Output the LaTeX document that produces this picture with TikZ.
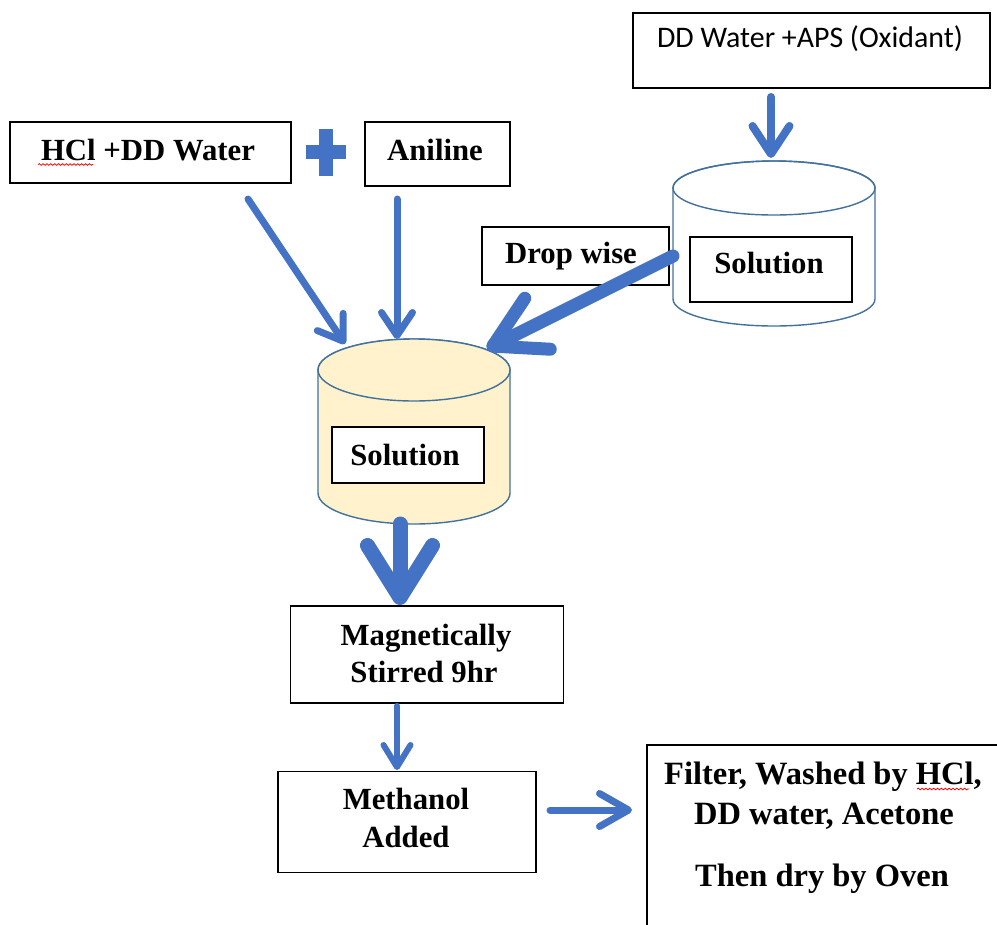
\documentclass[tikz,border=0pt]{standalone}
\usepackage{fontspec}
\setmainfont{Liberation Serif}
\newfontfamily\calfont{Carlito}
\usetikzlibrary{arrows.meta,decorations.pathmorphing}
\definecolor{ablue}{HTML}{4472C4}
\definecolor{cylline}{HTML}{41719C}
\definecolor{cylfill}{HTML}{FFF2CC}
\begin{document}
\begin{tikzpicture}[x=0.02cm,y=-0.02cm,
  box/.style={draw=black, line width=1pt, fill=white, inner sep=0pt},
  txt/.style={font=\fontsize{17.5}{21}\selectfont\bfseries, inner sep=0pt, anchor=base},
  bigtxt/.style={font=\fontsize{18.5}{22}\selectfont\bfseries, inner sep=0pt, anchor=base},
  flow/.style={draw=ablue, line cap=round, line join=round},
  cyl/.style={draw=cylline, line width=0.8pt},
  squig/.style={draw=red, line width=0.45pt, decorate, decoration={snake, amplitude=0.45pt, segment length=2.2pt}}
]
\useasboundingbox (0,0) rectangle (997,924);
\clip (0,0) rectangle (997,924);

% ---------- boxes ----------
\node[box, minimum width=7.14cm, minimum height=1.5cm] (dd) at (811.5,50.5) {};
\node[txt, font=\calfont\fontsize{17}{20}\selectfont] (ddt) at (810,47) {DD Water +APS (Oxidant)};

\node[box, minimum width=5.62cm, minimum height=1.22cm] (hcl) at (150.5,152.5) {};
\node[txt] (hclt) at (148,160) {HCl +DD Water};
\draw[squig] (38,164.5) -- (93,164.5);

\node[box, minimum width=2.9cm, minimum height=1.28cm] (ani) at (437.5,154) {};
\node[txt] (anit) at (435,160) {Aniline};

% plus sign
\fill[ablue] (319,129) rectangle (333,176);
\fill[ablue] (306,145) rectangle (346,159);
\coordinate (plus) at (326,152);

% ---------- right cylinder ----------
\path[cyl, fill=white] (673,188) -- (673,299)
   arc[start angle=180, end angle=0, x radius=101, y radius=27]
   -- (875,188)
   arc[start angle=0, end angle=-180, x radius=101, y radius=27] -- cycle;
\draw[cyl] (774,188) ellipse[x radius=101, y radius=27];
\coordinate (rcyltop) at (771,158);
\coordinate (rcylleft) at (673,256);

\node[box, minimum width=3.24cm, minimum height=1.3cm] (rsol) at (771,269.5) {};
\node[txt] (rsolt) at (769,273) {Solution};

\node[box, minimum width=3.74cm, minimum height=1.16cm] (drop) at (575.5,256) {};
\node[txt] (dropt) at (571,263) {Drop wise};

% ---------- left cylinder ----------
\path[cyl, fill=cylfill] (318,370) -- (318,493)
   arc[start angle=180, end angle=0, x radius=96, y radius=31]
   -- (510,370)
   arc[start angle=0, end angle=-180, x radius=96, y radius=31] -- cycle;
\draw[cyl, fill=cylfill] (414,370) ellipse[x radius=96, y radius=31];
\coordinate (lcylA) at (345,344);
\coordinate (lcylB) at (397,339);
\coordinate (lcylC) at (487,349);
\coordinate (lcylbot) at (400,524);

\node[box, minimum width=3.04cm, minimum height=1.12cm] (lsol) at (408,455) {};
\node[txt] (lsolt) at (405,465) {Solution};

% ---------- lower boxes ----------
\node[box, minimum width=5.46cm, minimum height=1.94cm] (mag) at (427,654.5) {};
\node[txt] (magt1) at (426,645) {Magnetically};
\node[txt] (magt2) at (424,682) {Stirred 9hr};

\node[box, minimum width=5.16cm, minimum height=2.02cm] (meth) at (407,822) {};
\node[txt] (metht1) at (406,809) {Methanol};
\node[txt] (metht2) at (406,847) {Added};

\draw[black, line width=1pt] (1010,745) -- (647,745) -- (647,940);
\coordinate (fin) at (647,810);
\node[bigtxt] (fint1) at (823,784) {Filter, Washed by HCl,};
\node[bigtxt] (fint2) at (824,824) {DD water, Acetone};
\node[bigtxt] (fint3) at (822,886) {Then dry by Oven};
\draw[squig] (917,789) -- (969,789);

% ---------- connectors ----------
\coordinate (ddout) at (771,97);
\coordinate (hclout) at (248,199);
\coordinate (aniout) at (397,199);
\coordinate (magin) at (400,605);
\coordinate (magout) at (397,706);
\coordinate (methin) at (397,770);
\coordinate (methout) at (550,810);

\draw[flow, line width=0.16cm, -{Straight Barb[length=0.56cm, width=0.74cm, round]}] (ddout) -- (rcyltop);
\draw[flow, line width=0.14cm, -{Straight Barb[length=0.46cm, width=0.62cm, round]}] (hclout) -- (lcylA);
\draw[flow, line width=0.14cm, -{Straight Barb[length=0.46cm, width=0.62cm, round]}] (aniout) -- (lcylB);
\draw[flow, line width=0.26cm, -{Straight Barb[length=1.0cm, width=1.14cm, round]}] (rcylleft) -- (lcylC);
\draw[flow, line width=0.3cm, -{Straight Barb[length=1.04cm, width=1.3cm, round]}] (lcylbot) -- (magin);
\draw[flow, line width=0.12cm, -{Straight Barb[length=0.44cm, width=0.54cm, round]}] (magout) -- (methin);
\draw[flow, line width=0.14cm, -{Straight Barb[length=0.58cm, width=0.66cm, round]}] (methout) -- ([xshift=-0.3cm]fin);
\end{tikzpicture}
\end{document}
